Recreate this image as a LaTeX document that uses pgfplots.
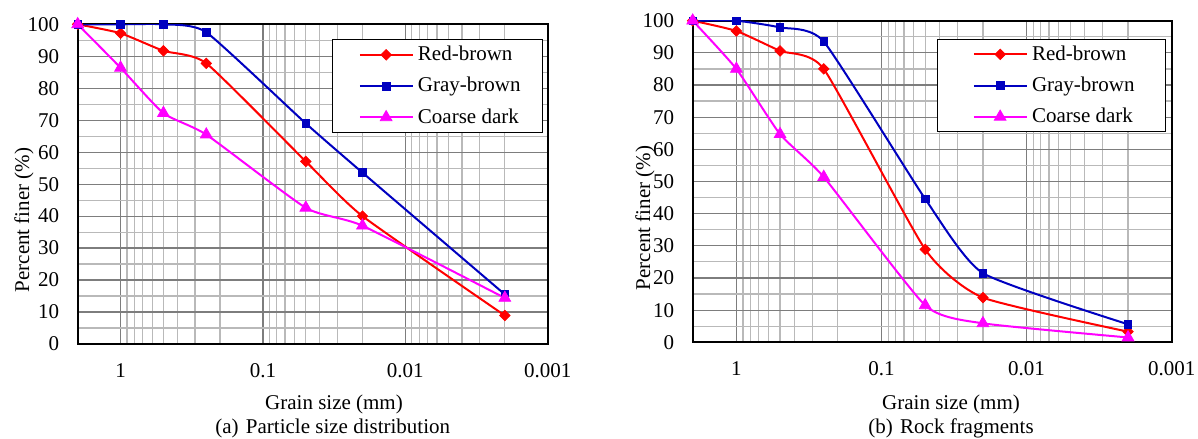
\documentclass[border=0pt]{standalone}
\usepackage{pgfplots}
\pgfplotsset{compat=1.18}
\usepackage{fontspec}
\setmainfont{Liberation Serif}
\definecolor{cRed}{RGB}{255,0,0}
\definecolor{cBlue}{RGB}{0,0,192}
\definecolor{cMag}{RGB}{255,0,255}
\definecolor{gMaj}{RGB}{125,125,125}
\definecolor{gMin}{RGB}{185,185,185}

\tikzset{
  sRed/.style={color=cRed, line width=2bp, smooth, tension=0.32, mark=square*, mark size=3.7bp, mark options={rotate=45, solid, line width=0.75bp, fill=cRed}},
  sBlue/.style={color=cBlue, line width=2bp, smooth, tension=0.32, mark=square*, mark size=3.8bp, mark options={solid, line width=0.75bp, fill=cBlue}},
  sMag/.style={color=cMag, line width=2bp, smooth, tension=0.32, mark=triangle*, mark size=6.8bp, mark options={solid, line width=0.75bp, fill=cMag}},
}
\pgfplotsset{
  legend image code/.code={
    \path (-7bp,0bp);
    \draw[mark repeat=2,mark phase=2,#1] plot coordinates {(0bp,0bp) (26.35bp,0bp) (52.7bp,0bp)};
  },
}

\begin{document}
\fontsize{21bp}{25bp}\selectfont
\begin{tikzpicture}
\useasboundingbox (0bp,0bp) rectangle (1198bp,439bp);

% ---------------- (a) ----------------
\begin{axis}[
  scale only axis,
  xmode=log, x dir=reverse,
  xmin=0.001, xmax=2,
  ymin=0, ymax=100,
  xtick={1,0.1,0.01,0.001},
  xticklabels={1,0.1,0.01,0.001},
  minor xtick={0.2,0.3,0.4,0.5,0.6,0.7,0.8,0.9,0.02,0.03,0.04,0.05,0.06,0.07,0.08,0.09,0.002,0.003,0.004,0.005,0.006,0.007,0.008,0.009},
  ytick={0,10,...,100},
  minor ytick={5,15,...,95},
  grid=both,
  major grid style={gMaj, line width=1.2bp},
  minor grid style={gMin, line width=1.2bp},
  major tick length=0pt, minor tick length=0pt,
  axis line style={black, line width=1.8bp},
  /pgf/number format/assume math mode=true,
  yticklabel style={anchor=east, inner sep=0pt, xshift=-18.5bp},
  xticklabel style={anchor=base, inner sep=0pt, yshift=-33bp},
  legend cell align=left,
  at={(77.7bp,95bp)}, anchor=south west,
  width=470bp, height=319.7bp,
  xlabel={Grain size (mm)}, ylabel={Percent finer (\%)},
  xlabel style={at={(axis description cs:0.5453,-0.2064)}, anchor=base},
  ylabel style={at={(axis description cs:-0.1143,0.388)}, anchor=center},
  legend style={at={(0.5404,0.954)}, anchor=north west, draw=black, line width=1bp, fill=white,
    inner xsep=19.6bp, inner ysep=4.5bp, row sep=9.5bp, column sep=2.5bp,
    nodes={inner sep=2bp, text depth=0.15em}},
  after end axis/.code={
    \node[anchor=base] at (axis description cs:0.5425,-0.2793) {(a)\hspace{0.35em}Particle size distribution};
  },
]
\addplot[sRed] coordinates {(2,100) (1,97.2) (0.5,91.7) (0.25,87.8) (0.05,57.1) (0.02,40.0) (0.002,8.9)};
\addlegendentry{Red-brown}
\addplot[sBlue] coordinates {(2,100) (1,100) (0.5,100) (0.25,97.5) (0.05,69.0) (0.02,53.6) (0.002,15.5)};
\addlegendentry{Gray-brown}
\addplot[sMag] coordinates {(2,100) (1,86.4) (0.5,72.2) (0.25,65.5) (0.05,42.6) (0.02,37.0) (0.002,14.4)};
\addlegendentry{Coarse dark}
\end{axis}

% ---------------- (b) ----------------
\begin{axis}[
  scale only axis,
  xmode=log, x dir=reverse,
  xmin=0.001, xmax=2,
  ymin=0, ymax=100,
  xtick={1,0.1,0.01,0.001},
  xticklabels={1,0.1,0.01,0.001},
  minor xtick={0.2,0.3,0.4,0.5,0.6,0.7,0.8,0.9,0.02,0.03,0.04,0.05,0.06,0.07,0.08,0.09,0.002,0.003,0.004,0.005,0.006,0.007,0.008,0.009},
  ytick={0,10,...,100},
  minor ytick={5,15,...,95},
  grid=both,
  major grid style={gMaj, line width=1.2bp},
  minor grid style={gMin, line width=1.2bp},
  major tick length=0pt, minor tick length=0pt,
  axis line style={black, line width=1.8bp},
  /pgf/number format/assume math mode=true,
  yticklabel style={anchor=east, inner sep=0pt, xshift=-18.5bp},
  xticklabel style={anchor=base, inner sep=0pt, yshift=-33bp},
  legend cell align=left,
  at={(692.7bp,96.7bp)}, anchor=south west,
  width=479bp, height=321.6bp,
  xlabel={Grain size (mm)}, ylabel={Percent finer (\%)},
  xlabel style={at={(axis description cs:0.5393,-0.2083)}, anchor=base},
  ylabel style={at={(axis description cs:-0.0995,0.3865)}, anchor=center},
  legend style={at={(0.5094,0.943)}, anchor=north west, draw=black, line width=1bp, fill=white,
    inner xsep=28.6bp, inner ysep=4bp, row sep=9.5bp, column sep=2.5bp,
    nodes={inner sep=2bp, text depth=0.15em}},
  after end axis/.code={
    \node[anchor=base] at (axis description cs:0.5393,-0.283) {(b)\hspace{0.35em}Rock fragments};
  },
]
\addplot[sRed] coordinates {(2,100) (1,96.8) (0.5,90.6) (0.25,85.0) (0.05,28.9) (0.02,13.9) (0.002,3.3)};
\addlegendentry{Red-brown}
\addplot[sBlue] coordinates {(2,100) (1,100) (0.5,97.9) (0.25,93.5) (0.05,44.6) (0.02,21.5) (0.002,5.6)};
\addlegendentry{Gray-brown}
\addplot[sMag] coordinates {(2,100) (1,85.0) (0.5,64.7) (0.25,51.4) (0.05,11.5) (0.02,5.9) (0.002,1.5)};
\addlegendentry{Coarse dark}
\end{axis}
\end{tikzpicture}
\end{document}
